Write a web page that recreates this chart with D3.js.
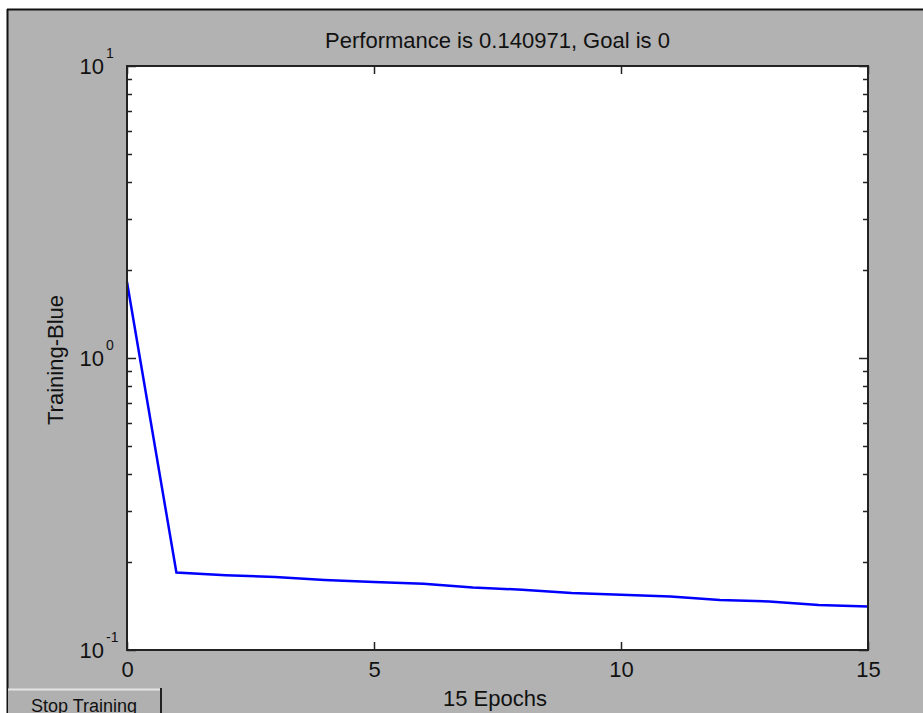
<!DOCTYPE html>
<html>
<head>
<meta charset="utf-8">
<script src="https://cdn.jsdelivr.net/npm/d3@7"></script>
<style>
  html, body { margin: 0; padding: 0; background: #ffffff; }
  svg { display: block; font-family: "Liberation Sans", Arial, sans-serif; }
</style>
</head>
<body>
<svg id="chart" width="923" height="713"></svg>
<script>
// ---- data ----
const epochs = [0, 1, 2, 3, 4, 5, 6, 7, 8, 9, 10, 11, 12, 13, 14, 15];
const trainingPerf = [1.82, 0.1842, 0.1804, 0.1778, 0.1737, 0.1709, 0.1687, 0.1637,
                      0.1608, 0.1567, 0.1545, 0.1524, 0.1483, 0.1466, 0.1426, 0.140971];
const xTickValues = [0, 5, 10, 15];
const yDecades = [0.1, 1, 10];
const yDecadeExponents = ["-1", "0", "1"];
const titleText = "Performance is 0.140971, Goal is 0";
const xLabelText = "15 Epochs";
const yLabelText = "Training-Blue";
const buttonText = "Stop Training";

// ---- layout ----
const W = 923, H = 713;
const plot = { left: 127, right: 868, top: 66, bottom: 650 };
const bg = "#b2b2b2";

const svg = d3.select("#chart");

// figure frame
svg.append("rect").attr("x", 0).attr("y", 0).attr("width", W).attr("height", H).attr("fill", "#ffffff");
svg.append("rect").attr("x", 8).attr("y", 10).attr("width", W - 8).attr("height", H - 10).attr("fill", bg);
svg.append("line").attr("x1", 7).attr("x2", W).attr("y1", 9.5).attr("y2", 9.5).attr("stroke", "#111").attr("stroke-width", 2);
svg.append("line").attr("x1", 7.5).attr("x2", 7.5).attr("y1", 9).attr("y2", H).attr("stroke", "#111").attr("stroke-width", 2);

const x = d3.scaleLinear().domain([0, 15]).range([plot.left, plot.right]);
const y = d3.scaleLog().domain([0.1, 10]).range([plot.bottom, plot.top]);

// plot area
svg.append("rect")
  .attr("x", plot.left).attr("y", plot.top)
  .attr("width", plot.right - plot.left).attr("height", plot.bottom - plot.top)
  .attr("fill", "#ffffff");

// data line
const line = d3.line().x((d, i) => x(epochs[i])).y(d => y(d));
svg.append("path")
  .datum(trainingPerf)
  .attr("d", line)
  .attr("fill", "none")
  .attr("stroke", "#0000ff")
  .attr("stroke-width", 2.5)
  .attr("stroke-linejoin", "miter");

// x axes (inward ticks)
const xBottom = d3.axisBottom(x).tickValues(xTickValues).tickSize(-8).tickPadding(11).tickFormat(d3.format("d"));
const gxb = svg.append("g").attr("transform", `translate(0,${plot.bottom})`).call(xBottom);
gxb.select(".domain").remove();
gxb.selectAll("line").attr("stroke", "#222").attr("stroke-width", 1.5);
gxb.selectAll("text").attr("font-size", 22).attr("fill", "#111").attr("font-family", "Liberation Sans, Arial, sans-serif");

const xTop = d3.axisTop(x).tickValues(xTickValues).tickSize(-8).tickFormat("");
const gxt = svg.append("g").attr("transform", `translate(0,${plot.top})`).call(xTop);
gxt.select(".domain").remove();
gxt.selectAll("line").attr("stroke", "#222").attr("stroke-width", 1.5);

// y ticks (log, minor + major, both sides, inward)
const yTicks = y.ticks();
const isMajor = d => Math.abs(Math.log10(d) - Math.round(Math.log10(d))) < 1e-9;
const gy = svg.append("g");
gy.selectAll("line.l").data(yTicks).join("line")
  .attr("x1", plot.left).attr("x2", d => plot.left + (isMajor(d) ? 9 : 5))
  .attr("y1", d => Math.round(y(d)) + 0.5).attr("y2", d => Math.round(y(d)) + 0.5)
  .attr("stroke", "#222").attr("stroke-width", 1.5);
gy.selectAll("line.r").data(yTicks).join("line")
  .attr("x1", plot.right).attr("x2", d => plot.right - (isMajor(d) ? 9 : 5))
  .attr("y1", d => Math.round(y(d)) + 0.5).attr("y2", d => Math.round(y(d)) + 0.5)
  .attr("stroke", "#222").attr("stroke-width", 1.5);

// y tick labels 10^n
const yl = svg.append("g").attr("fill", "#111");
yDecades.forEach((v, i) => {
  const yy = y(v);
  yl.append("text").attr("x", 104).attr("y", yy + 8).attr("text-anchor", "end")
    .attr("font-size", 22).text("10");
  yl.append("text").attr("x", 106).attr("y", yy - 8).attr("text-anchor", "start")
    .attr("font-size", 14).text(yDecadeExponents[i]);
});

// box
svg.append("rect")
  .attr("x", plot.left).attr("y", plot.top)
  .attr("width", plot.right - plot.left).attr("height", plot.bottom - plot.top)
  .attr("fill", "none").attr("stroke", "#222").attr("stroke-width", 2);

// title and labels
svg.append("text").attr("x", (plot.left + plot.right) / 2).attr("y", 48)
  .attr("text-anchor", "middle").attr("font-size", 22).attr("fill", "#111").text(titleText);
svg.append("text").attr("x", 495).attr("y", 706)
  .attr("text-anchor", "middle").attr("font-size", 22).attr("fill", "#111").text(xLabelText);
svg.append("text").attr("transform", "translate(63,360) rotate(-90)")
  .attr("text-anchor", "middle").attr("font-size", 22).attr("fill", "#111").text(yLabelText);

// Stop Training button
const btn = svg.append("g");
btn.append("rect").attr("x", 8).attr("y", 689).attr("width", 153).attr("height", 30).attr("fill", "#b0b0b0");
btn.append("line").attr("x1", 8).attr("x2", 160).attr("y1", 689.5).attr("y2", 689.5).attr("stroke", "#e4e4e4").attr("stroke-width", 2);
btn.append("line").attr("x1", 161).attr("x2", 161).attr("y1", 688).attr("y2", H).attr("stroke", "#222").attr("stroke-width", 2);
btn.append("text").attr("x", 84).attr("y", 712).attr("text-anchor", "middle")
  .attr("font-size", 18).attr("fill", "#111").text(buttonText);
</script>
</body>
</html>
